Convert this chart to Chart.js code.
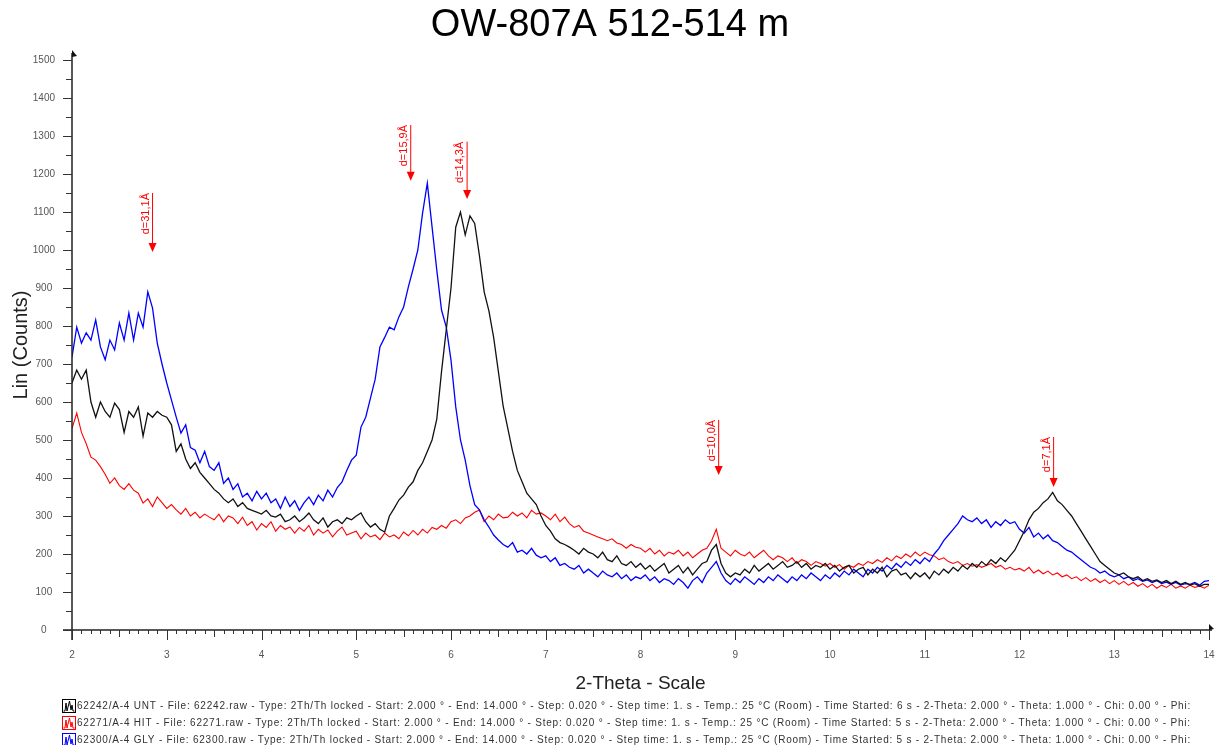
<!DOCTYPE html>
<html lang="en">
<head>
    <meta charset="UTF-8">
    <title>OW-807A 512-514 m</title>
    <script src="https://cdn.jsdelivr.net/npm/chart.js"></script>
    <style>
        html, body { margin: 0; padding: 0; background: #fff; }
        #wrap { width: 1215px; height: 745px; }
    </style>
</head>
<body>
    <div id="wrap">
        <canvas id="xrd" width="1215" height="745"></canvas>
    </div>

    <script>
        // 2-Theta positions (degrees)
        const twoTheta = [
            2.00, 2.05, 2.10, 2.15, 2.20, 2.25, 2.30, 2.35, 2.40, 2.45, 2.50, 2.55, 2.60, 2.65, 2.70, 2.75, 2.80, 2.85, 2.90, 2.95,
            3.00, 3.05, 3.10, 3.15, 3.20, 3.25, 3.30, 3.35, 3.40, 3.45, 3.50, 3.55, 3.60, 3.65, 3.70, 3.75, 3.80, 3.85, 3.90, 3.95,
            4.00, 4.05, 4.10, 4.15, 4.20, 4.25, 4.30, 4.35, 4.40, 4.45, 4.50, 4.55, 4.60, 4.65, 4.70, 4.75, 4.80, 4.85, 4.90, 4.95,
            5.00, 5.05, 5.10, 5.15, 5.20, 5.25, 5.30, 5.35, 5.40, 5.45, 5.50, 5.55, 5.60, 5.65, 5.70, 5.75, 5.80, 5.85, 5.90, 5.95,
            6.00, 6.05, 6.10, 6.15, 6.20, 6.25, 6.30, 6.35, 6.40, 6.45, 6.50, 6.55, 6.60, 6.65, 6.70, 6.75, 6.80, 6.85, 6.90, 6.95,
            7.00, 7.05, 7.10, 7.15, 7.20, 7.25, 7.30, 7.35, 7.40, 7.45, 7.50, 7.55, 7.60, 7.65, 7.70, 7.75, 7.80, 7.85, 7.90, 7.95,
            8.00, 8.05, 8.10, 8.15, 8.20, 8.25, 8.30, 8.35, 8.40, 8.45, 8.50, 8.55, 8.60, 8.65, 8.70, 8.75, 8.80, 8.85, 8.90, 8.95,
            9.00, 9.05, 9.10, 9.15, 9.20, 9.25, 9.30, 9.35, 9.40, 9.45, 9.50, 9.55, 9.60, 9.65, 9.70, 9.75, 9.80, 9.85, 9.90, 9.95,
            10.00, 10.05, 10.10, 10.15, 10.20, 10.25, 10.30, 10.35, 10.40, 10.45, 10.50, 10.55, 10.60, 10.65, 10.70, 10.75, 10.80, 10.85, 10.90, 10.95,
            11.00, 11.05, 11.10, 11.15, 11.20, 11.25, 11.30, 11.35, 11.40, 11.45, 11.50, 11.55, 11.60, 11.65, 11.70, 11.75, 11.80, 11.85, 11.90, 11.95,
            12.00, 12.05, 12.10, 12.15, 12.20, 12.25, 12.30, 12.35, 12.40, 12.45, 12.50, 12.55, 12.60, 12.65, 12.70, 12.75, 12.80, 12.85, 12.90, 12.95,
            13.00, 13.05, 13.10, 13.15, 13.20, 13.25, 13.30, 13.35, 13.40, 13.45, 13.50, 13.55, 13.60, 13.65, 13.70, 13.75, 13.80, 13.85, 13.90, 13.95,
            14.00
        ];

        // 62242/A-4 UNT (untreated)
        const countsUNT = [
            650, 684, 660, 684, 600, 560, 600, 575, 560, 597, 580, 520, 575, 560, 587, 510, 571, 560, 575, 565,
            560, 540, 470, 490, 450, 425, 440, 415, 400, 385, 370, 360, 345, 335, 345, 325, 335, 320, 315, 310,
            305, 315, 300, 297, 305, 285, 290, 300, 285, 295, 308, 290, 280, 295, 271, 285, 290, 280, 295, 290,
            300, 308, 285, 271, 280, 265, 258, 300, 320, 342, 355, 376, 390, 420, 440, 470, 500, 555, 680, 790,
            900, 1060, 1100, 1040, 1090, 1070, 985, 890, 840, 770, 680, 590, 530, 470, 420, 390, 360, 345, 330, 300,
            275, 260, 240, 230, 225, 218, 210, 200, 215, 205, 200, 190, 205, 185, 180, 195, 175, 170, 180, 165,
            175, 160, 170, 155, 165, 175, 150, 160, 170, 150, 165, 145, 160, 175, 180, 210, 225, 175, 150, 140,
            150, 145, 160, 150, 170, 155, 165, 175, 160, 170, 180, 165, 170, 180, 165, 175, 160, 170, 165, 175,
            160, 170, 155, 165, 170, 150, 160, 165, 145, 160, 150, 165, 140, 155, 160, 145, 150, 135, 150, 140,
            150, 135, 155, 145, 160, 150, 165, 155, 170, 160, 175, 165, 180, 170, 185, 175, 190, 180, 195, 210,
            235, 260, 290, 310, 320, 335, 345, 362, 340, 330, 315, 300, 280, 260, 240, 220, 200, 180, 170, 160,
            150, 145, 150, 140, 135, 140, 130, 135, 128, 132, 125, 130, 122, 128, 120, 125, 118, 122, 115, 120,
            120
        ];

        // 62271/A-4 HIT (heated)
        const countsHIT = [
            530, 571, 520, 490, 455, 447, 430, 410, 386, 400, 380, 370, 385, 368, 360, 334, 345, 325, 350, 335,
            320, 330, 316, 305, 320, 300, 310, 295, 305, 297, 290, 305, 285, 300, 295, 280, 297, 275, 285, 263,
            280, 270, 285, 260, 275, 265, 271, 255, 270, 260, 275, 250, 265, 255, 263, 245, 260, 271, 250, 255,
            260, 240, 255, 245, 250, 238, 255, 245, 250, 240, 258, 248, 262, 250, 265, 255, 270, 265, 275, 268,
            285, 290, 280, 295, 300, 310, 316, 285, 300, 290, 305, 295, 297, 310, 300, 308, 295, 315, 305, 308,
            300, 290, 305, 285, 297, 280, 270, 275, 260, 255, 250, 245, 240, 235, 240, 229, 225, 215, 225, 218,
            215, 205, 215, 200, 210, 195, 205, 200, 210, 195, 205, 190, 200, 210, 215, 235, 265, 215, 205, 195,
            210, 200, 195, 205, 190, 200, 210, 195, 185, 195, 190, 180, 190, 175, 185, 180, 170, 180, 175, 168,
            175, 165, 172, 160, 170, 165, 175, 170, 180, 175, 185, 178, 190, 182, 195, 188, 200, 192, 205, 195,
            205, 198, 195, 185, 190, 180, 175, 180, 170, 175, 168, 172, 165, 170, 175, 165, 170, 160, 165, 158,
            162, 155, 165, 150, 158, 148, 155, 145, 150, 140, 145, 135, 140, 130, 138, 128, 135, 125, 132, 122,
            130, 120, 128, 118, 125, 115, 122, 112, 120, 110, 118, 112, 120, 110, 116, 110, 118, 112, 116, 110,
            118
        ];

        // 62300/A-4 GLY (glycolated)
        const countsGLY = [
            718, 797, 755, 782, 763, 816, 745, 711, 763, 737, 808, 763, 834, 763, 834, 797, 890, 847, 755, 700,
            650, 605, 560, 518, 540, 480, 473, 440, 470, 430, 420, 440, 386, 400, 370, 385, 350, 360, 340, 365,
            345, 360, 335, 345, 320, 350, 325, 340, 315, 335, 350, 330, 355, 340, 368, 350, 375, 390, 420, 447,
            460, 534, 560, 610, 660, 745, 770, 797, 790, 824, 850, 903, 950, 1000, 1097, 1176, 1061, 947, 842, 797,
            710, 587, 500, 447, 380, 330, 316, 290, 271, 250, 237, 225, 218, 230, 205, 210, 200, 215, 197, 190,
            195, 180, 190, 170, 175, 165, 160, 170, 150, 160, 150, 140, 155, 145, 140, 150, 135, 145, 130, 140,
            135, 145, 130, 140, 125, 135, 130, 120, 135, 125, 110, 130, 140, 125, 150, 165, 180, 150, 130, 120,
            135, 125, 140, 130, 120, 135, 125, 140, 130, 145, 135, 125, 140, 130, 145, 135, 150, 140, 130, 145,
            135, 150, 140, 155, 145, 160, 150, 140, 160, 150, 165, 155, 170, 160, 175, 165, 180, 170, 185, 175,
            190, 180, 200, 215, 235, 250, 265, 280, 300, 290, 285, 295, 280, 290, 270, 285, 275, 290, 280, 285,
            265, 255, 270, 245, 255, 240, 250, 235, 230, 220, 210, 205, 195, 185, 175, 165, 160, 150, 155, 145,
            140, 145, 135, 140, 130, 135, 128, 132, 125, 130, 122, 126, 120, 125, 118, 122, 120, 125, 118, 128,
            130
        ];

        // d-spacing markers: label, 2-Theta, arrow top and tip (counts)
        const peakLabels = ['d=31,1Å', 'd=15,9Å', 'd=14,3Å', 'd=10,0Å', 'd=7,1Å'];
        const peakTheta = [2.85, 5.575, 6.17, 8.825, 12.36];
        const arrowTop = [1150, 1329, 1285, 553, 508];
        const arrowTip = [995, 1182, 1134, 408, 376];

        const legendLines = [
            '62242/A-4 UNT - File: 62242.raw - Type: 2Th/Th locked - Start: 2.000 ° - End: 14.000 ° - Step: 0.020 ° - Step time: 1. s - Temp.: 25 °C (Room) - Time Started: 6 s - 2-Theta: 2.000 ° - Theta: 1.000 ° - Chi: 0.00 ° - Phi:',
            '62271/A-4 HIT - File: 62271.raw - Type: 2Th/Th locked - Start: 2.000 ° - End: 14.000 ° - Step: 0.020 ° - Step time: 1. s - Temp.: 25 °C (Room) - Time Started: 5 s - 2-Theta: 2.000 ° - Theta: 1.000 ° - Chi: 0.00 ° - Phi:',
            '62300/A-4 GLY - File: 62300.raw - Type: 2Th/Th locked - Start: 2.000 ° - End: 14.000 ° - Step: 0.020 ° - Step time: 1. s - Temp.: 25 °C (Room) - Time Started: 5 s - 2-Theta: 2.000 ° - Theta: 1.000 ° - Chi: 0.00 ° - Phi:'
        ];
        const legendColors = ['#000000', '#ff0000', '#0000ff'];

        const FONT = '"Liberation Sans", Arial, sans-serif';

        // axes, minor ticks, d-spacing arrows, title and scan legend
        const decorations = {
            id: 'decorations',
            afterDatasetsDraw(chart) {
                const ctx = chart.ctx;
                const xs = chart.scales.x, ys = chart.scales.y;
                const x0 = xs.getPixelForValue(2), x1 = xs.getPixelForValue(14);
                const y0 = ys.getPixelForValue(0), y1 = ys.getPixelForValue(1500);
                ctx.save();

                // axis lines
                ctx.strokeStyle = '#222';
                ctx.lineWidth = 1.5;
                ctx.beginPath();
                ctx.moveTo(x0, y0 + 10);
                ctx.lineTo(x0, y1 - 7);
                ctx.moveTo(x0 - 9, y0);
                ctx.lineTo(x1 + 3, y0);
                ctx.stroke();

                // arrow flags at the axis ends
                ctx.fillStyle = '#111';
                ctx.beginPath();
                ctx.moveTo(x0, y1 - 10);
                ctx.lineTo(x0 + 5, y1 - 4);
                ctx.lineTo(x0, y1 - 3);
                ctx.closePath();
                ctx.fill();
                ctx.beginPath();
                ctx.moveTo(x1, y0 - 6);
                ctx.lineTo(x1 + 5, y0 - 1);
                ctx.lineTo(x1, y0);
                ctx.closePath();
                ctx.fill();

                // tick marks
                ctx.lineWidth = 1;
                ctx.strokeStyle = '#333';
                ctx.beginPath();
                for (let i = 0; i <= 120; i++) {
                    const px = Math.round(xs.getPixelForValue(2 + i / 10)) + 0.5;
                    const len = i % 10 === 0 ? 10 : (i % 5 === 0 ? 7 : 4);
                    ctx.moveTo(px, y0);
                    ctx.lineTo(px, y0 + len);
                }
                for (let i = 0; i <= 30; i++) {
                    const py = Math.round(ys.getPixelForValue(i * 50)) + 0.5;
                    const len = i % 2 === 0 ? 9 : 6;
                    ctx.moveTo(x0 - len, py);
                    ctx.lineTo(x0, py);
                }
                ctx.stroke();

                // d-spacing arrows
                ctx.strokeStyle = '#ff0000';
                ctx.fillStyle = '#ff0000';
                ctx.font = '11px ' + FONT;
                peakLabels.forEach((label, i) => {
                    const px = xs.getPixelForValue(peakTheta[i]);
                    const top = ys.getPixelForValue(arrowTop[i]);
                    const tip = ys.getPixelForValue(arrowTip[i]);
                    ctx.beginPath();
                    ctx.moveTo(px, top);
                    ctx.lineTo(px, tip - 8);
                    ctx.stroke();
                    ctx.beginPath();
                    ctx.moveTo(px - 4, tip - 9);
                    ctx.lineTo(px + 4, tip - 9);
                    ctx.lineTo(px, tip);
                    ctx.closePath();
                    ctx.fill();
                    ctx.save();
                    ctx.translate(px - 7, top);
                    ctx.rotate(-Math.PI / 2);
                    ctx.textAlign = 'right';
                    ctx.textBaseline = 'middle';
                    ctx.fillText(label, 0, 0);
                    ctx.restore();
                });

                // title
                ctx.fillStyle = '#000';
                ctx.font = '38px ' + FONT;
                ctx.textAlign = 'center';
                ctx.textBaseline = 'middle';
                ctx.fillText('OW-807A 512-514 m', 610, 26);

                // scan legend
                ctx.font = '10px ' + FONT;
                ctx.textAlign = 'left';
                const textLeft = 77, textRight = 1191;
                legendLines.forEach((line, i) => {
                    const cy = 706 + i * 17;
                    const col = legendColors[i];
                    ctx.strokeStyle = col;
                    ctx.lineWidth = 1;
                    ctx.strokeRect(62.5, cy - 6.5, 13, 13);
                    ctx.beginPath();
                    ctx.moveTo(63.5, cy + 5);
                    ctx.lineTo(65, cy + 5);
                    ctx.lineTo(66, cy - 3);
                    ctx.lineTo(67, cy + 5);
                    ctx.lineTo(68, cy + 1);
                    ctx.lineTo(69.5, cy - 5);
                    ctx.lineTo(71, cy + 4);
                    ctx.lineTo(72, cy - 1);
                    ctx.lineTo(73, cy + 5);
                    ctx.lineTo(74.5, cy + 5);
                    ctx.stroke();
                    ctx.letterSpacing = '0px';
                    const w = ctx.measureText(line).width;
                    const sp = (textRight - textLeft - w) / line.length;
                    ctx.letterSpacing = sp.toFixed(3) + 'px';
                    ctx.fillStyle = '#333';
                    ctx.fillText(line, textLeft, cy + 0.5);
                });
                ctx.letterSpacing = '0px';
                ctx.restore();
            }
        };

        Chart.defaults.color = '#555';
        Chart.defaults.font.family = FONT;

        new Chart(document.getElementById('xrd'), {
            type: 'line',
            data: {
                labels: twoTheta,
                datasets: [
                    { label: '62242/A-4 UNT', data: countsUNT, borderColor: '#111111', borderWidth: 1.3 },
                    { label: '62300/A-4 GLY', data: countsGLY, borderColor: '#0000ff', borderWidth: 1.3 },
                    { label: '62271/A-4 HIT', data: countsHIT, borderColor: '#ff0000', borderWidth: 1.1 }
                ]
            },
            options: {
                responsive: false,
                animation: false,
                layout: { padding: { top: 60, right: 6, bottom: 0, left: 0 } },
                elements: { point: { radius: 0 }, line: { tension: 0 } },
                plugins: { legend: { display: false }, tooltip: { enabled: false } },
                scales: {
                    x: {
                        type: 'linear',
                        min: 2,
                        max: 14,
                        grid: { display: false, drawTicks: false },
                        border: { display: false },
                        ticks: { stepSize: 1, padding: 19, font: { size: 10 }, color: '#555' },
                        title: { display: true, text: '2-Theta - Scale', color: '#222', font: { size: 19 }, padding: { top: 0, bottom: 50 } },
                        afterFit(scale) {
                            scale.height = 115;
                            scale.paddingLeft = 0;
                            scale.paddingRight = 0;
                        }
                    },
                    y: {
                        min: 0,
                        max: 1500,
                        grid: { display: false, drawTicks: false },
                        border: { display: false },
                        ticks: {
                            stepSize: 100,
                            padding: 17,
                            crossAlign: 'center',
                            font: { size: 10 },
                            color: '#555',
                            callback: (v) => String(v)
                        },
                        title: { display: true, text: 'Lin (Counts)', color: '#222', font: { size: 20 }, padding: { top: 9, bottom: 0 } },
                        afterFit(scale) {
                            scale.width = 72;
                            scale.paddingTop = 0;
                            scale.paddingBottom = 0;
                        }
                    }
                }
            },
            plugins: [decorations]
        });
    </script>
</body>
</html>
